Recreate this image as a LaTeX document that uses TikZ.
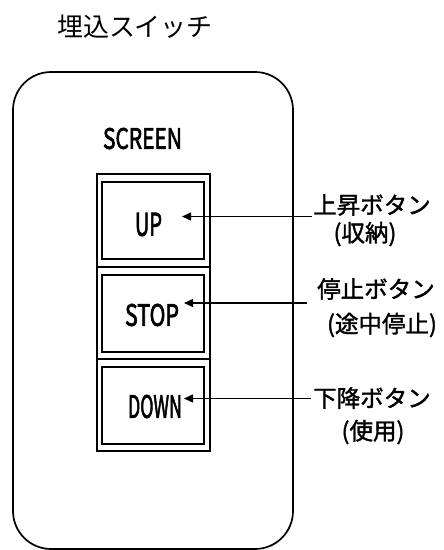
\documentclass[tikz,border=0pt]{standalone}
\usepackage{fontspec}
\newfontfamily\jp{Noto Sans CJK JP}
\newfontfamily\jpm[FakeBold=1.5]{Noto Sans CJK JP}
\newfontfamily\jpl[FakeBold=2.6]{Noto Sans CJK JP}
\usetikzlibrary{arrows.meta}
\begin{document}
\begin{tikzpicture}[x=1pt,y=-1pt,
  frame/.style={draw, line width=1.2pt},
  btntext/.style={inner sep=0pt, font=\jpl},
  lab/.style={inner sep=0pt, font=\jpm\fontsize{23.5}{24}\selectfont},
  arr/.style={line width=1.3pt, -{Triangle[length=9pt,width=8pt]}}]
\useasboundingbox (0,0) rectangle (444,550);
% title
\node[inner sep=0pt, font=\jp\fontsize{26}{26}\selectfont] (title) at (135,27) {埋込スイッチ};
% body
\draw[line width=1.7pt, rounded corners=38pt] (13,72) rectangle (293,549);
\node[btntext] (screen) at (142.5,138.5) {\resizebox{79pt}{21pt}{SCREEN}};
% button frame
\draw[frame] (97,174) rectangle (210,451);
\draw[frame] (97,267) -- (210,267);
\draw[frame] (97,359) -- (210,359);
\draw[frame] (102,182) rectangle (204,259);
\draw[frame] (102,275) rectangle (204,352);
\draw[frame] (102,367) rectangle (204,444);
% button texts
\node[btntext] (up) at (148.5,224.5) {\resizebox{27pt}{23pt}{UP}};
\node[btntext] (stop) at (152,315) {\resizebox{54pt}{22pt}{STOP}};
\node[btntext] (down) at (155,406.5) {\resizebox{54pt}{23pt}{DOWN}};
% labels
\node[lab] (l1) at (372,205) {上昇ボタン};
\node[lab] (l1b) at (365,234) {(収納)};
\node[lab] (l2) at (376,289) {停止ボタン};
\node[lab] (l2b) at (382,325) {(途中停止)};
\node[lab] (l3) at (372,398) {下降ボタン};
\node[lab] (l3b) at (373,432) {(使用)};
% arrows
\coordinate (s1) at (312,216.5);
\coordinate (t1) at (182,216.5);
\coordinate (s2) at (307,303);
\coordinate (t2) at (184,303);
\coordinate (s3) at (311,398.5);
\coordinate (t3) at (184,398.5);
\draw[arr] (s1) -- (t1);
\draw[arr] (s2) -- (t2);
\draw[arr] (s3) -- (t3);
\end{tikzpicture}
\end{document}
